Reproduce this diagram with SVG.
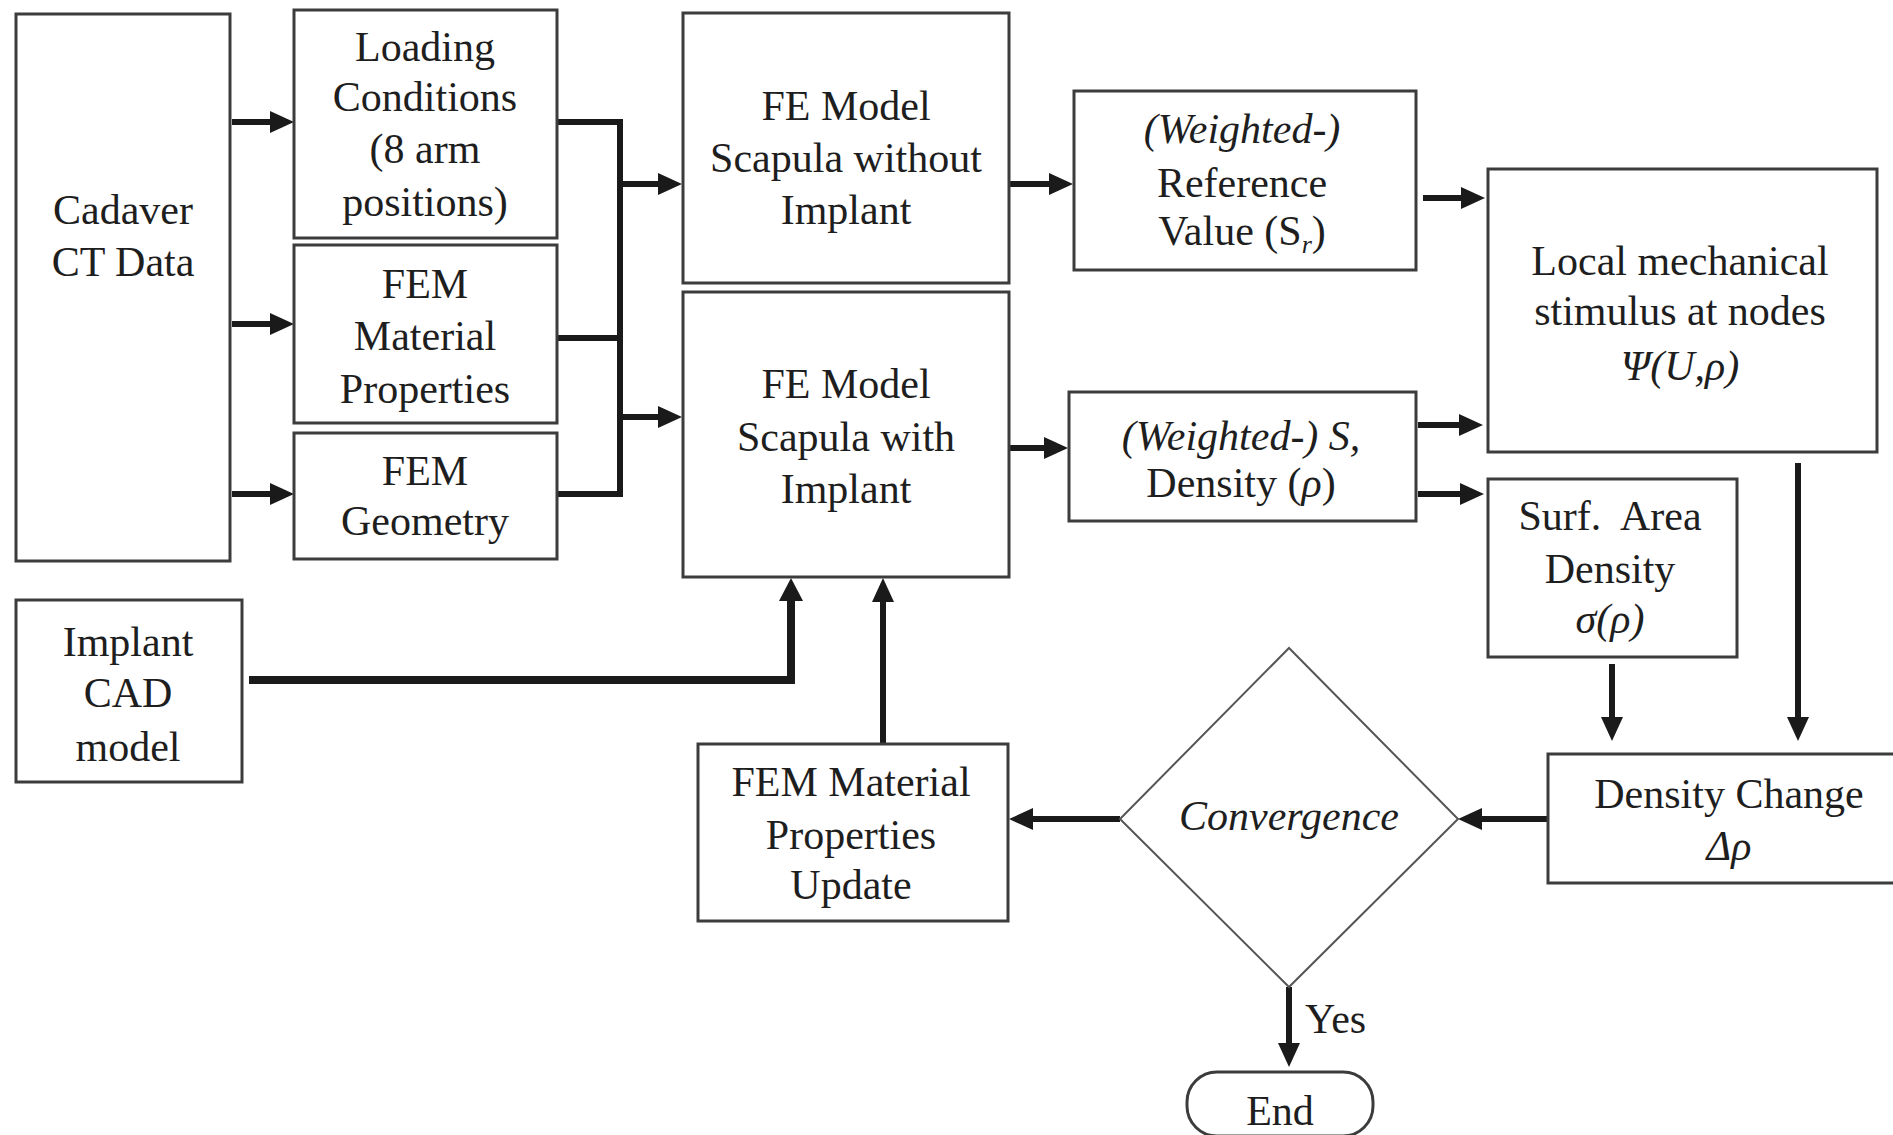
<svg xmlns="http://www.w3.org/2000/svg" width="1893" height="1135" viewBox="0 0 1893 1135">
<defs>
<style>
.box{fill:#fff;stroke:#3c3c3c;stroke-width:3}
.dia{fill:#fff;stroke:#555;stroke-width:2}
.t{font-family:"Liberation Serif","Times New Roman",serif;font-size:42px;fill:#1e1e1e;text-anchor:middle}
.i{font-style:italic}
.c{fill:none;stroke:#1a1a1a;stroke-width:6}
.cw{fill:none;stroke:#1a1a1a;stroke-width:8}
</style>
<marker id="ah" viewBox="0 0 24 22" refX="12" refY="11" markerWidth="24" markerHeight="22" markerUnits="userSpaceOnUse" orient="auto">
<path d="M0,0 L24,11 L0,22 Z" fill="#1a1a1a"/>
</marker>
</defs>
<rect width="1893" height="1135" fill="#fff"/>

<g id="connectors">
<line class="c" x1="232" y1="122" x2="282" y2="122" marker-end="url(#ah)"/>
<line class="c" x1="232" y1="324" x2="282" y2="324" marker-end="url(#ah)"/>
<line class="c" x1="232" y1="494" x2="282" y2="494" marker-end="url(#ah)"/>
<path class="c" d="M557,122 H620 V494 H557"/>
<line class="c" x1="557" y1="338" x2="620" y2="338"/>
<line class="c" x1="620" y1="184" x2="670" y2="184" marker-end="url(#ah)"/>
<line class="c" x1="620" y1="417" x2="670" y2="417" marker-end="url(#ah)"/>
<line class="c" x1="1010" y1="184" x2="1061" y2="184" marker-end="url(#ah)"/>
<line class="c" x1="1010" y1="448" x2="1056" y2="448" marker-end="url(#ah)"/>
<line class="c" x1="1423" y1="198" x2="1473" y2="198" marker-end="url(#ah)"/>
<line class="c" x1="1418" y1="425" x2="1471" y2="425" marker-end="url(#ah)"/>
<line class="c" x1="1418" y1="494" x2="1472" y2="494" marker-end="url(#ah)"/>
<line class="c" x1="1612" y1="664" x2="1612" y2="729" marker-end="url(#ah)"/>
<line class="c" x1="1798" y1="463" x2="1798" y2="729" marker-end="url(#ah)"/>
<line class="c" x1="1548" y1="819" x2="1470" y2="819" marker-end="url(#ah)"/>
<line class="c" x1="1120" y1="819" x2="1021" y2="819" marker-end="url(#ah)"/>
<line class="c" x1="883" y1="744" x2="883" y2="590" marker-end="url(#ah)"/>
<path class="cw" d="M249,680 H791 V591"/>
<path d="M779,601 L791,578 L803,601 Z" fill="#1a1a1a"/>
<line class="c" x1="1289" y1="987" x2="1289" y2="1055" marker-end="url(#ah)"/>
<text class="t" x="1305" y="1033" style="text-anchor:start">Yes</text>
</g>

<g id="cadaver">
<rect class="box" x="16" y="14" width="214" height="547"/>
<text class="t" x="123" y="224">Cadaver</text>
<text class="t" x="123" y="276">CT Data</text>
</g>

<g id="loading">
<rect class="box" x="294" y="10" width="263" height="228"/>
<text class="t" x="425" y="61">Loading</text>
<text class="t" x="425" y="111">Conditions</text>
<text class="t" x="425" y="163">(8 arm</text>
<text class="t" x="425" y="216">positions)</text>
</g>

<g id="fem-material">
<rect class="box" x="294" y="245" width="263" height="178"/>
<text class="t" x="425" y="298">FEM</text>
<text class="t" x="425" y="350">Material</text>
<text class="t" x="425" y="403">Properties</text>
</g>

<g id="fem-geometry">
<rect class="box" x="294" y="433" width="263" height="126"/>
<text class="t" x="425" y="485">FEM</text>
<text class="t" x="425" y="535">Geometry</text>
</g>

<g id="fe-without">
<rect class="box" x="683" y="13" width="326" height="270"/>
<text class="t" x="846" y="120">FE Model</text>
<text class="t" x="846" y="172">Scapula without</text>
<text class="t" x="846" y="224">Implant</text>
</g>

<g id="fe-with">
<rect class="box" x="683" y="292" width="326" height="285"/>
<text class="t" x="846" y="398">FE Model</text>
<text class="t" x="846" y="451">Scapula with</text>
<text class="t" x="846" y="503">Implant</text>
</g>

<g id="reference-value">
<rect class="box" x="1074" y="91" width="342" height="179"/>
<text class="t i" x="1242" y="143">(Weighted-)</text>
<text class="t" x="1242" y="197">Reference</text>
<text class="t" x="1242" y="245">Value (S<tspan class="i" font-size="26" dy="8">r</tspan><tspan dy="-8">)</tspan></text>
</g>

<g id="weighted-s">
<rect class="box" x="1069" y="392" width="347" height="129"/>
<text class="t" x="1241" y="450"><tspan class="i">(Weighted-) S,</tspan></text>
<text class="t" x="1241" y="497">Density (<tspan class="i">ρ</tspan>)</text>
</g>

<g id="local-stimulus">
<rect class="box" x="1488" y="169" width="389" height="283"/>
<text class="t" x="1680" y="275">Local mechanical</text>
<text class="t" x="1680" y="325">stimulus at nodes</text>
<text class="t i" x="1680" y="380">Ψ(U,ρ)</text>
</g>

<g id="surf-area">
<rect class="box" x="1488" y="479" width="249" height="178"/>
<text class="t" x="1610" y="530" xml:space="preserve">Surf.  Area</text>
<text class="t" x="1610" y="583">Density</text>
<text class="t i" x="1610" y="633">σ(ρ)</text>
</g>

<g id="density-change">
<rect class="box" x="1548" y="754" width="350" height="129"/>
<text class="t" x="1729" y="808">Density Change</text>
<text class="t i" x="1729" y="860">Δρ</text>
</g>

<g id="convergence">
<polygon class="dia" points="1289,648 1458,819 1289,987 1120,819"/>
<text class="t i" x="1289" y="830">Convergence</text>
</g>

<g id="fem-update">
<rect class="box" x="698" y="744" width="310" height="177"/>
<text class="t" x="851" y="796">FEM Material</text>
<text class="t" x="851" y="849">Properties</text>
<text class="t" x="851" y="899">Update</text>
</g>

<g id="implant-cad">
<rect class="box" x="16" y="600" width="226" height="182"/>
<text class="t" x="128" y="656">Implant</text>
<text class="t" x="128" y="707">CAD</text>
<text class="t" x="128" y="761">model</text>
</g>

<g id="end">
<rect class="box" x="1187" y="1072" width="186" height="64" rx="30" ry="30"/>
<text class="t" x="1280" y="1125">End</text>
</g>
</svg>
